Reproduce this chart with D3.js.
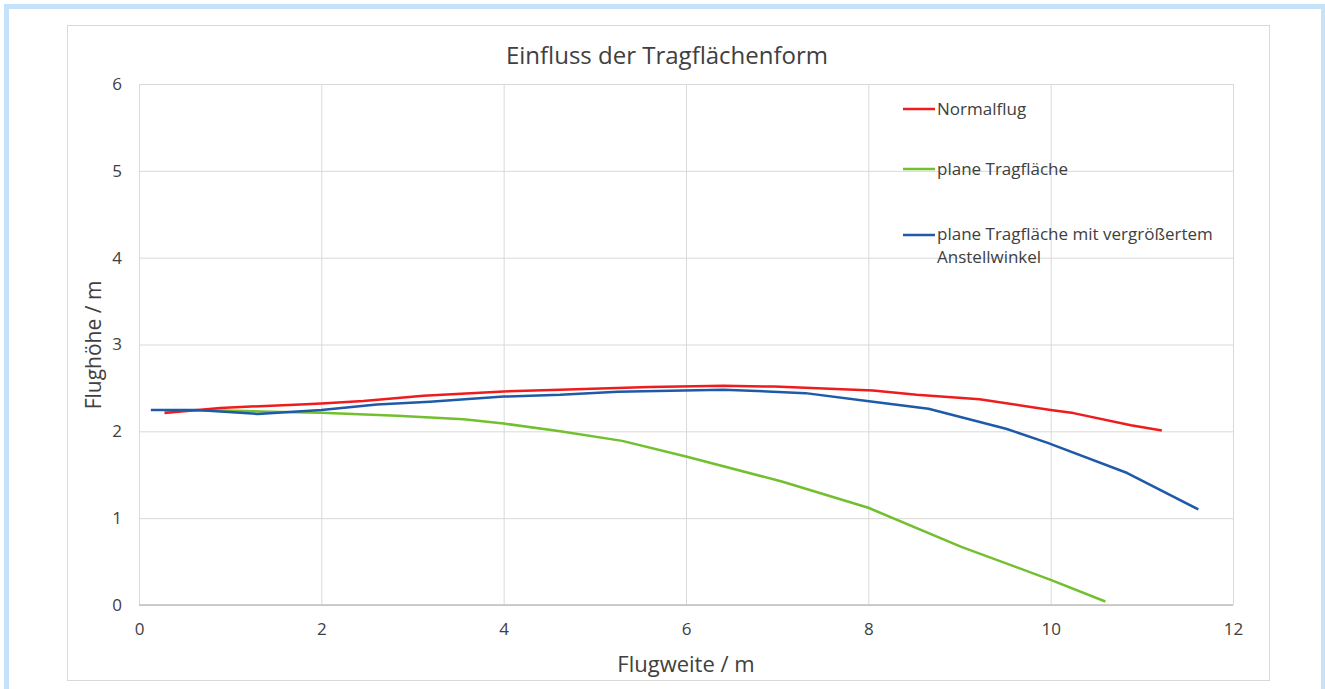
<!DOCTYPE html>
<meta charset="utf-8">
<style>
body { margin: 0; background: white; }
svg { font-family: 'Open Sans', sans-serif; }
.tick text { fill: #404040; font-size: 17px; }
.grid line { stroke: #d9d9d9; stroke-width: 1px; }
</style>
<body>
<script src="https://d3js.org/d3.v7.min.js"></script>
<script>

// data
const normalX = [0.28, 0.89, 1.77, 2.0, 2.46, 3.12, 4.0, 4.62, 5.60, 6.41, 6.97, 8.05, 8.53, 9.22, 10.0, 10.25, 10.88, 11.22];
const normalY = [2.21, 2.27, 2.31, 2.32, 2.35, 2.41, 2.46, 2.48, 2.51, 2.525, 2.515, 2.47, 2.42, 2.37, 2.245, 2.21, 2.07, 2.01];

const planeX = [0.28, 0.9, 1.44, 2.0, 2.83, 3.56, 4.0, 4.62, 5.30, 6.0, 7.06, 8.0, 9.02, 10.0, 10.60];
const planeY = [2.24, 2.24, 2.226, 2.215, 2.18, 2.14, 2.09, 2.0, 1.89, 1.71, 1.42, 1.12, 0.67, 0.29, 0.04];

const winkelX = [0.13, 0.63, 1.30, 2.0, 2.61, 3.19, 4.0, 4.62, 5.25, 6.41, 7.31, 8.05, 8.66, 9.51, 9.96, 10.84, 11.62];
const winkelY = [2.245, 2.245, 2.2, 2.245, 2.31, 2.34, 2.40, 2.42, 2.457, 2.48, 2.44, 2.34, 2.26, 2.03, 1.87, 1.52, 1.10];

const xTicks = [0, 2, 4, 6, 8, 10, 12];
const yTicks = [0, 1, 2, 3, 4, 5, 6];

const seriesNames = ["Normalflug", "plane Tragfläche", "plane Tragfläche mit vergrößertem Anstellwinkel"];
const seriesColors = ["#ee1c1c", "#72bf2f", "#1f5aa8"];

const width = 1325, height = 689;
const plot = {left: 139, right: 1233, top: 84, bottom: 605};

var svg = d3.select("body").append("svg")
    .attr("width", width)
    .attr("height", height);

// light blue page frame
svg.append("rect")
    .attr("x", 6.5).attr("y", 6.5)
    .attr("width", 1317).attr("height", 700)
    .attr("fill", "white")
    .attr("stroke", "#c5e3f8")
    .attr("stroke-width", 5);

// chart area frame
svg.append("rect")
    .attr("x", 67.5).attr("y", 25.5)
    .attr("width", 1202).attr("height", 655)
    .attr("fill", "white")
    .attr("stroke", "#d9d9d9");

var x = d3.scaleLinear().domain([0, 12]).range([plot.left, plot.right]);
var y = d3.scaleLinear().domain([0, 6]).range([plot.bottom, plot.top]);

// grid lines
svg.append("g")
    .attr("class", "grid")
    .attr("transform", "translate(0," + plot.bottom + ")")
    .call(d3.axisBottom(x).tickValues(xTicks).tickSize(-(plot.bottom - plot.top)).tickFormat(""))
    .call(g => g.select(".domain").remove());

svg.append("g")
    .attr("class", "grid")
    .attr("transform", "translate(" + plot.left + ",0)")
    .call(d3.axisLeft(y).tickValues(yTicks).tickSize(-(plot.right - plot.left)).tickFormat(""))
    .call(g => g.select(".domain").remove());

// axis line at the bottom
svg.append("line")
    .attr("x1", plot.left).attr("x2", plot.right)
    .attr("y1", plot.bottom).attr("y2", plot.bottom)
    .attr("stroke", "#bfbfbf")
    .attr("stroke-width", 1.5);

// tick labels
svg.append("g")
    .attr("transform", "translate(0," + plot.bottom + ")")
    .call(d3.axisBottom(x).tickValues(xTicks).tickSize(0).tickPadding(18).tickFormat(d3.format("d")))
    .call(g => g.select(".domain").remove())
    .selectAll("text").attr("font-family", "'Open Sans', sans-serif");

svg.append("g")
    .attr("transform", "translate(" + plot.left + ",0)")
    .call(d3.axisLeft(y).tickValues(yTicks).tickSize(0).tickPadding(17).tickFormat(d3.format("d")))
    .call(g => g.select(".domain").remove())
    .selectAll("text").attr("font-family", "'Open Sans', sans-serif");

// lines
var line = d3.line()
    .x(function(d) { return x(d[0]); })
    .y(function(d) { return y(d[1]); });

var series = [
  d3.zip(normalX, normalY),
  d3.zip(planeX, planeY),
  d3.zip(winkelX, winkelY)
];

// draw green first, then red, then blue on top
[1, 0, 2].forEach(function(i) {
  svg.append("path")
    .datum(series[i])
    .attr("fill", "none")
    .attr("stroke", seriesColors[i])
    .attr("stroke-width", 2.5)
    .attr("stroke-linejoin", "round")
    .attr("d", line);
});

// title
svg.append("text")
    .attr("x", 667)
    .attr("y", 64)
    .attr("text-anchor", "middle")
    .style("font-size", "24px")
    .style("fill", "#404040")
    .text("Einfluss der Tragflächenform");

// axis titles
svg.append("text")
    .attr("x", 686)
    .attr("y", 672)
    .attr("text-anchor", "middle")
    .style("font-size", "22px")
    .style("fill", "#404040")
    .text("Flugweite / m");

svg.append("text")
    .attr("transform", "translate(101,345) rotate(-90)")
    .attr("text-anchor", "middle")
    .style("font-size", "21px")
    .style("fill", "#404040")
    .text("Flughöhe / m");

// legend
var legendY = [109, 169, 235];
var legend = svg.append("g");
seriesNames.forEach(function(name, i) {
  legend.append("line")
    .attr("x1", 903).attr("x2", 935)
    .attr("y1", legendY[i]).attr("y2", legendY[i])
    .attr("stroke", seriesColors[i])
    .attr("stroke-width", 2.5);
});

legend.append("text").attr("x", 937).attr("y", legendY[0] + 6)
    .style("font-size", "17px").style("fill", "#404040").text(seriesNames[0]);
legend.append("text").attr("x", 937).attr("y", legendY[1] + 6)
    .style("font-size", "17px").style("fill", "#404040").text(seriesNames[1]);
legend.append("text").attr("x", 937).attr("y", legendY[2] + 5)
    .style("font-size", "17px").style("fill", "#404040").text("plane Tragfläche mit vergrößertem");
legend.append("text").attr("x", 937).attr("y", legendY[2] + 28)
    .style("font-size", "17px").style("fill", "#404040").text("Anstellwinkel");

</script>
</body>
